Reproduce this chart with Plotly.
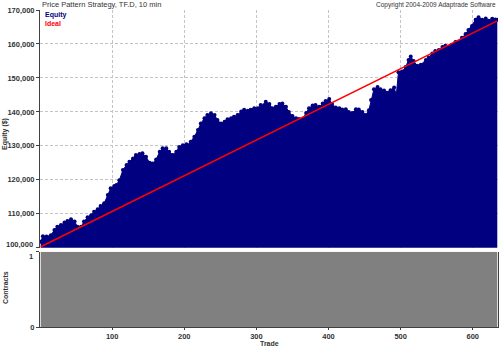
import plotly.graph_objects as go

# ---- data ----
trade = [1, 4, 9, 15, 20, 24, 29, 34, 38, 43, 48, 52, 57, 61, 66, 71, 75, 80, 84, 89,
         94, 98, 103, 106, 110, 115, 120, 124, 129, 133, 138, 142, 147, 152, 156, 161,
         166, 170, 175, 179, 184, 189, 193, 198, 203, 205, 209, 214, 219, 223, 228, 232,
         237, 242, 246, 251, 256, 260, 265, 269, 274, 279, 283, 288, 292, 297, 302, 306,
         311, 313, 318, 322, 327, 332, 336, 341, 345, 350, 355, 359, 364, 369, 373, 378,
         382, 387, 392, 396, 401, 405, 410, 415, 419, 424, 428, 433, 438, 442, 447, 452,
         456, 459, 463, 468, 472, 477, 481, 486, 491, 494, 497, 502, 507, 511, 514, 518,
         523, 528, 535, 539, 544, 548, 553, 558, 562, 567, 571, 576, 581, 585, 590, 594,
         599, 604, 608, 613, 618, 622, 627, 631, 634]
equity = [101800, 103400, 103300, 103700, 105200, 106200, 106700, 107400, 107900, 108400,
          107700, 106200, 106200, 107700, 109000, 109600, 110600, 111300, 112300, 113100,
          115500, 117500, 118200, 118500, 119900, 122900, 124400, 125300, 126300, 127300,
          127600, 127800, 126800, 125000, 124800, 126000, 128300, 129300, 129300, 128300,
          127300, 128300, 129700, 130200, 130500, 130200, 131200, 132700, 134700, 136600,
          138100, 139100, 139600, 139100, 137600, 136600, 137100, 137800, 138100, 138600,
          139100, 140100, 140600, 140300, 140600, 141100, 141100, 142000, 142000, 143000,
          142300, 141100, 141500, 142300, 142500, 141500, 140000, 138800, 138100, 137900,
          137800, 139700, 141100, 141900, 142000, 141500, 142500, 143200, 143800, 142300,
          141300, 141100, 140700, 140800, 140000, 139700, 140800, 140700, 140000, 139100,
          140500, 143500, 146700, 147300, 146700, 146300, 145600, 146400, 147200, 145000,
          151700, 151900, 153200, 155300, 156300, 155000, 153600, 153900, 155300, 156000,
          157200, 157900, 158200, 159100, 159500, 159100, 159700, 160600, 160600, 161800,
          162900, 164100, 165300, 167100, 167900, 167100, 167500, 166800, 167400, 167200,
          167100]

ideal_trade = [1, 634]
ideal_equity = [100300, 166800]

contract_trade = [1, 634]
contracts = [1, 1]

x_ticks = [100, 200, 300, 400, 500, 600]
y_ticks = [100000, 110000, 120000, 130000, 140000, 150000, 160000, 170000]
y_ticktext = ["", "110,000", "120,000", "130,000", "140,000", "150,000", "160,000", "170,000"]
y2_ticks = [0, 1]
y2_ticktext = ["0", ""]

NAVY = "#000080"
RED = "#ff0000"
GRAY = "#808080"
AX = "#404040"
TXT = "#333333"
FONT = "Liberation Sans"

fig = go.Figure()
fig.add_trace(go.Scatter(
    x=trade, y=equity, mode="lines+markers", fill="tozeroy", fillcolor=NAVY,
    line=dict(color=NAVY, width=1), marker=dict(color=NAVY, size=4),
    xaxis="x", yaxis="y", showlegend=False, hoverinfo="skip"))
fig.add_trace(go.Scatter(
    x=ideal_trade, y=ideal_equity, mode="lines", line=dict(color=RED, width=1.5),
    xaxis="x", yaxis="y", showlegend=False, hoverinfo="skip"))
fig.add_trace(go.Scatter(
    x=contract_trade, y=contracts, mode="lines", fill="tozeroy", fillcolor=GRAY,
    line=dict(color=GRAY, width=0), xaxis="x2", yaxis="y2",
    showlegend=False, hoverinfo="skip"))

tickfont = dict(family=FONT, size=7.5, color=TXT, weight="bold")
grid = dict(showgrid=True, gridcolor="#c4c4c4", griddash="3px,2px", gridwidth=1)

fig.update_layout(
    width=500, height=347,
    margin=dict(l=40, r=2, t=10, b=20),
    paper_bgcolor="white", plot_bgcolor="white",
    font=dict(family=FONT, color=TXT),
    xaxis=dict(domain=[0, 1], anchor="y", range=[0, 635], tickvals=x_ticks,
               showticklabels=False, zeroline=False, showline=False, **grid),
    yaxis=dict(domain=[0.25, 1], anchor="x", range=[100000, 170000], tickvals=y_ticks,
               ticktext=y_ticktext, tickfont=tickfont, ticks="outside", ticklen=3,
               tickcolor=AX, showline=True, linecolor=AX, linewidth=1,
               zeroline=False, **grid),
    xaxis2=dict(domain=[0, 1], anchor="y2", range=[0, 635], tickvals=x_ticks,
                tickfont=tickfont, ticks="outside", ticklen=2, tickcolor=AX,
                showline=True, linecolor=AX, linewidth=1, zeroline=False,
                showgrid=False),
    yaxis2=dict(domain=[0, 0.2375], anchor="x2", range=[0, 1], tickvals=y2_ticks,
                ticktext=y2_ticktext, tickfont=tickfont, ticks="outside", ticklen=3,
                tickcolor=AX, showline=True, mirror=True, linecolor=AX, linewidth=1,
                zeroline=False, showgrid=False),
)

ann = [
    dict(text="Price Pattern Strategy, TF.D, 10 min", x=0, y=1.0158, xanchor="left",
         yanchor="middle", font=dict(family=FONT, size=7.5, color=TXT)),
    dict(text="Copyright 2004-2009 Adaptrade Software", x=1, y=1.0158, xanchor="right",
         yanchor="middle", font=dict(family=FONT, size=6.5, color=TXT)),
    dict(text="Equity", x=0.0066, y=0.984, xanchor="left", yanchor="middle",
         font=dict(family=FONT, size=7, color=NAVY, weight="bold")),
    dict(text="Ideal", x=0.0066, y=0.956, xanchor="left", yanchor="middle",
         font=dict(family=FONT, size=7, color=RED, weight="bold")),
    dict(text="Equity ($)", x=-0.0764, y=0.609, xanchor="center", yanchor="middle",
         textangle=-90, font=dict(family=FONT, size=7, color=TXT, weight="bold")),
    dict(text="Contracts", x=-0.0764, y=0.123, xanchor="center", yanchor="middle",
         textangle=-90, font=dict(family=FONT, size=7, color=TXT, weight="bold")),
    dict(text="Trade", x=0.5, y=-0.0505, xanchor="center", yanchor="middle",
         font=dict(family=FONT, size=7, color=TXT, weight="bold")),
    # end labels nudged apart, as in the reference
    dict(text=f"{y_ticks[0]:,}", x=-0.0109, y=0.2618, xanchor="right", yanchor="middle",
         font=tickfont),
    dict(text=str(y2_ticks[1]), x=-0.0109, y=0.222, xanchor="right", yanchor="middle",
         font=tickfont),
]
for a in ann:
    a.update(xref="paper", yref="paper", showarrow=False)
fig.update_layout(annotations=ann)

fig.write_html("out.html")
